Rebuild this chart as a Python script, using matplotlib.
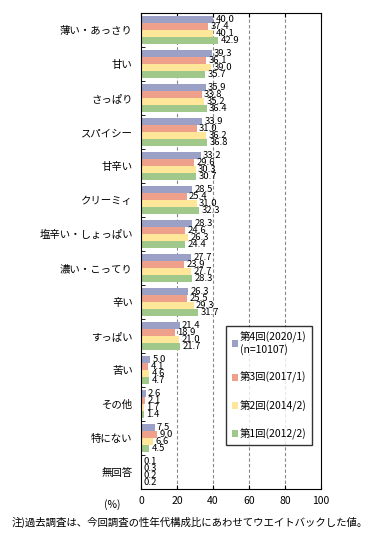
import matplotlib.pyplot as plt
from matplotlib.patches import Patch
import numpy as np

plt.rcParams['font.family'] = ['Noto Sans CJK JP', 'DejaVu Sans']

categorias = ["薄い・あっさり", "甘い", "さっぱり", "スパイシー", "甘辛い", "クリーミィ",
              "塩辛い・しょっぱい", "濃い・こってり", "辛い", "すっぱい", "苦い", "その他",
              "特にない", "無回答"]
dai4 = [40.0, 39.3, 35.9, 33.9, 33.2, 28.5, 28.3, 27.7, 26.3, 21.4, 5.0, 2.6, 7.5, 0.1]
dai3 = [37.4, 36.1, 33.8, 31.0, 29.6, 25.4, 24.6, 23.9, 25.5, 18.9, 4.1, 2.1, 9.0, 0.3]
dai2 = [40.1, 39.0, 35.2, 36.2, 30.3, 31.0, 26.3, 27.7, 29.3, 21.0, 4.6, 1.7, 6.6, 0.2]
dai1 = [42.9, 35.7, 36.4, 36.8, 30.7, 32.3, 24.4, 28.3, 31.7, 21.7, 4.7, 1.4, 4.5, 0.2]
series = [dai4, dai3, dai2, dai1]
etiquetas = ["第4回(2020/1)\n(n=10107)", "第3回(2017/1)", "第2回(2014/2)", "第1回(2012/2)"]
cores = ["#9AA0C6", "#EFA08A", "#FFE699", "#A0C88A"]
xticks = [0, 20, 40, 60, 80, 100]

fig = plt.figure(figsize=(3.73, 5.44), dpi=100)
ax = fig.add_axes([141 / 373, 55 / 544, 180 / 373, 476 / 544])

y = np.arange(len(categorias))
h = 0.205
for k, (vals, cor) in enumerate(zip(series, cores)):
    pos = y + (k - 1.5) * h
    ax.barh(pos, vals, height=h, color=cor, zorder=2)
    for p, v in zip(pos, vals):
        ax.text(v + 1.3, p, f"{v:.1f}", fontsize=6.8, va="center", ha="left", zorder=3)

ax.set_ylim(len(categorias) - 0.5, -0.5)
ax.set_xlim(0, 100)
ax.set_yticks(y)
ax.set_yticklabels(categorias, fontsize=7.5)
ax.set_yticks(np.arange(len(categorias) + 1) - 0.5, minor=True)
ax.tick_params(axis="y", which="major", length=0, pad=6)
ax.tick_params(axis="y", which="minor", direction="in", length=3)
ax.set_xticks(xticks)
ax.set_xticklabels([str(t) for t in xticks], fontsize=7.5)
ax.tick_params(axis="x", direction="in", length=3, top=True, pad=5)
for t in xticks[1:-1]:
    ax.axvline(t, color="#888888", linestyle=(0, (3, 2)), linewidth=0.8, zorder=1)

ax.text(-0.16, -0.022, "(%)", transform=ax.transAxes, fontsize=7.5, ha="center", va="top")

legendas = [Patch(facecolor=c, label=l) for c, l in zip(cores, etiquetas)]
leg = ax.legend(handles=legendas, loc="upper left", bbox_to_anchor=(0.475, 0.342),
                fontsize=7.5, frameon=True, fancybox=False, edgecolor="black",
                handlelength=0.6, handleheight=0.6, handletextpad=0.2,
                labelspacing=1.6, borderpad=0.5, borderaxespad=0)
leg.get_frame().set_linewidth(1.0)

fig.text(190 / 373, 1 - 522 / 544,
         "注)過去調査は、今回調査の性年代構成比にあわせてウエイトバックした値。",
         fontsize=7.5, ha="center", va="center")

plt.savefig("out.png", dpi=100)
